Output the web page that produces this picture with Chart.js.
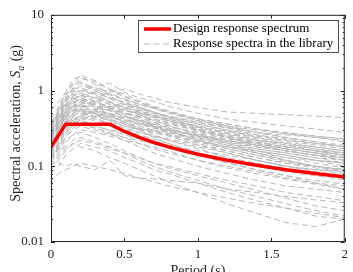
<!DOCTYPE html>
<html>
<head>
<meta charset="utf-8">
<script src="https://cdn.jsdelivr.net/npm/chart.js@4/dist/chart.umd.min.js"></script>
<style>
  html, body { margin: 0; padding: 0; background: #fff; }
  #wrap { width: 353px; height: 272px; }
</style>
</head>
<body>
<div id="wrap"><canvas id="spectra" width="353" height="272"></canvas></div>
<script>
// design spectrum (period in s, Sa in g)
const designT  = [0, 0.1, 0.4, 0.5, 0.6, 0.7, 0.8, 0.9, 1.0, 1.2, 1.4, 1.6, 1.8, 2.0];
const designSa = [0.18, 0.36, 0.36, 0.288, 0.24, 0.206, 0.18, 0.16, 0.144, 0.12, 0.103, 0.09, 0.08, 0.072];

// periods where the library spectra were read
const libT = [0, 0.05, 0.1, 0.15, 0.2, 0.3, 0.4, 0.5, 0.6, 0.7, 0.8, 1.0, 1.2, 1.4, 1.6, 1.8, 2.0];
// response spectra in the library (one row per record)
const libSa = [
  [0.30, 0.55, 0.95, 1.40, 1.55, 1.20, 0.90, 0.75, 0.62, 0.50, 0.44, 0.33, 0.27, 0.22, 0.19, 0.16, 0.14],
  [0.25, 0.42, 0.70, 1.10, 1.45, 1.30, 1.00, 0.82, 0.70, 0.60, 0.52, 0.40, 0.33, 0.28, 0.24, 0.21, 0.18],
  [0.35, 0.50, 0.80, 1.00, 0.95, 1.15, 1.25, 0.95, 0.80, 0.72, 0.62, 0.50, 0.42, 0.38, 0.34, 0.31, 0.28],
  [0.22, 0.35, 0.55, 0.75, 0.85, 0.80, 0.95, 1.05, 0.90, 0.80, 0.70, 0.60, 0.52, 0.50, 0.48, 0.46, 0.44],
  [0.28, 0.40, 0.60, 0.70, 0.78, 0.70, 0.60, 0.52, 0.45, 0.40, 0.36, 0.30, 0.25, 0.21, 0.18, 0.16, 0.14],
  [0.18, 0.30, 0.45, 0.60, 0.65, 0.58, 0.55, 0.48, 0.40, 0.34, 0.30, 0.22, 0.18, 0.15, 0.12, 0.10, 0.09],
  [0.20, 0.28, 0.40, 0.52, 0.60, 0.68, 0.62, 0.55, 0.50, 0.46, 0.40, 0.32, 0.26, 0.22, 0.20, 0.17, 0.15],
  [0.15, 0.22, 0.32, 0.45, 0.55, 0.50, 0.42, 0.36, 0.31, 0.26, 0.22, 0.17, 0.13, 0.11, 0.09, 0.08, 0.07],
  [0.24, 0.33, 0.48, 0.58, 0.52, 0.45, 0.40, 0.38, 0.34, 0.30, 0.27, 0.21, 0.17, 0.14, 0.12, 0.10, 0.085],
  [0.30, 0.45, 0.62, 0.85, 1.00, 0.88, 0.70, 0.58, 0.48, 0.40, 0.35, 0.26, 0.20, 0.16, 0.13, 0.11, 0.095],
  [0.12, 0.18, 0.26, 0.35, 0.42, 0.48, 0.45, 0.40, 0.36, 0.33, 0.30, 0.25, 0.21, 0.18, 0.16, 0.14, 0.13],
  [0.10, 0.14, 0.20, 0.26, 0.30, 0.28, 0.25, 0.22, 0.20, 0.17, 0.15, 0.12, 0.10, 0.085, 0.07, 0.06, 0.055],
  [0.09, 0.11, 0.10, 0.11, 0.10, 0.09, 0.12, 0.075, 0.07, 0.068, 0.065, 0.06, 0.05, 0.045, 0.04, 0.036, 0.033],
  [0.16, 0.25, 0.38, 0.40, 0.36, 0.32, 0.27, 0.22, 0.18, 0.15, 0.13, 0.10, 0.08, 0.065, 0.055, 0.05, 0.045],
  [0.26, 0.40, 0.58, 0.72, 0.66, 0.72, 0.80, 0.70, 0.58, 0.50, 0.46, 0.38, 0.32, 0.26, 0.22, 0.19, 0.17],
  [0.20, 0.30, 0.50, 0.66, 0.78, 0.62, 0.48, 0.38, 0.30, 0.24, 0.20, 0.15, 0.11, 0.09, 0.075, 0.065, 0.058],
  [0.14, 0.20, 0.30, 0.36, 0.44, 0.40, 0.34, 0.30, 0.28, 0.25, 0.22, 0.18, 0.15, 0.12, 0.10, 0.09, 0.08],
  [0.33, 0.48, 0.75, 0.90, 0.85, 0.72, 0.58, 0.50, 0.42, 0.36, 0.32, 0.24, 0.19, 0.15, 0.12, 0.10, 0.09],
  [0.18, 0.26, 0.38, 0.48, 0.50, 0.44, 0.36, 0.30, 0.26, 0.23, 0.20, 0.15, 0.12, 0.10, 0.085, 0.075, 0.066],
  [0.12, 0.16, 0.22, 0.26, 0.28, 0.24, 0.20, 0.16, 0.13, 0.11, 0.095, 0.075, 0.06, 0.048, 0.038, 0.03, 0.026],
  [0.08, 0.10, 0.14, 0.17, 0.20, 0.18, 0.16, 0.13, 0.11, 0.09, 0.08, 0.06, 0.045, 0.035, 0.028, 0.022, 0.020],
  [0.22, 0.32, 0.46, 0.62, 0.70, 0.60, 0.56, 0.50, 0.46, 0.42, 0.38, 0.30, 0.24, 0.20, 0.17, 0.15, 0.13],
  [0.38, 0.55, 0.85, 1.20, 1.30, 1.00, 0.78, 0.64, 0.55, 0.48, 0.42, 0.34, 0.29, 0.25, 0.22, 0.20, 0.18],
  [0.17, 0.24, 0.34, 0.42, 0.46, 0.52, 0.48, 0.42, 0.37, 0.34, 0.31, 0.26, 0.22, 0.19, 0.17, 0.15, 0.14],
  [0.13, 0.18, 0.24, 0.30, 0.34, 0.30, 0.26, 0.24, 0.22, 0.20, 0.18, 0.14, 0.11, 0.09, 0.075, 0.06, 0.05],
  [0.27, 0.38, 0.55, 0.66, 0.62, 0.55, 0.50, 0.45, 0.40, 0.35, 0.31, 0.25, 0.21, 0.17, 0.15, 0.13, 0.11],
  [0.20, 0.27, 0.36, 0.40, 0.46, 0.56, 0.62, 0.66, 0.60, 0.52, 0.45, 0.36, 0.30, 0.26, 0.23, 0.20, 0.18],
  [0.11, 0.15, 0.18, 0.22, 0.24, 0.21, 0.18, 0.15, 0.12, 0.10, 0.085, 0.065, 0.05, 0.04, 0.032, 0.026, 0.022],
  [0.06, 0.08, 0.09, 0.10, 0.11, 0.10, 0.09, 0.08, 0.07, 0.062, 0.055, 0.045, 0.038, 0.032, 0.028, 0.024, 0.021],
  [0.10, 0.13, 0.17, 0.20, 0.18, 0.16, 0.13, 0.11, 0.09, 0.075, 0.062, 0.045, 0.032, 0.024, 0.018, 0.016, 0.020],
  [0.24, 0.36, 0.52, 0.60, 0.72, 0.82, 0.70, 0.60, 0.52, 0.45, 0.40, 0.30, 0.24, 0.19, 0.16, 0.14, 0.12],
  [0.15, 0.22, 0.30, 0.38, 0.40, 0.36, 0.38, 0.34, 0.30, 0.28, 0.26, 0.21, 0.18, 0.16, 0.14, 0.12, 0.11],
  [0.29, 0.42, 0.66, 0.80, 0.72, 0.64, 0.54, 0.46, 0.40, 0.34, 0.29, 0.22, 0.17, 0.14, 0.115, 0.10, 0.09],
  [0.19, 0.26, 0.36, 0.44, 0.40, 0.34, 0.30, 0.28, 0.24, 0.21, 0.19, 0.16, 0.14, 0.12, 0.10, 0.09, 0.085],
  [0.42, 0.60, 0.90, 1.05, 1.10, 0.92, 0.80, 0.70, 0.60, 0.52, 0.46, 0.38, 0.32, 0.28, 0.26, 0.24, 0.22],
  [0.16, 0.24, 0.36, 0.50, 0.58, 0.54, 0.46, 0.38, 0.32, 0.28, 0.25, 0.19, 0.15, 0.12, 0.10, 0.085, 0.075],
  [0.21, 0.30, 0.44, 0.56, 0.62, 0.66, 0.58, 0.50, 0.44, 0.38, 0.34, 0.27, 0.22, 0.18, 0.16, 0.14, 0.12],
  [0.13, 0.19, 0.28, 0.34, 0.38, 0.34, 0.30, 0.26, 0.23, 0.20, 0.18, 0.14, 0.12, 0.10, 0.09, 0.08, 0.07],
  [0.26, 0.36, 0.50, 0.62, 0.86, 0.95, 0.88, 0.76, 0.66, 0.58, 0.52, 0.42, 0.36, 0.31, 0.28, 0.25, 0.23],
  [0.55, 0.70, 0.95, 1.25, 1.60, 1.35, 1.05, 0.85, 0.70, 0.60, 0.52, 0.42, 0.36, 0.31, 0.27, 0.24, 0.21],
  [0.32, 0.46, 0.70, 0.95, 1.15, 1.05, 0.85, 0.66, 0.58, 0.52, 0.44, 0.36, 0.30, 0.24, 0.21, 0.18, 0.16],
  [0.19, 0.28, 0.42, 0.55, 0.62, 0.74, 0.66, 0.60, 0.54, 0.47, 0.42, 0.33, 0.27, 0.23, 0.19, 0.17, 0.15],
  [0.23, 0.34, 0.50, 0.62, 0.58, 0.50, 0.46, 0.44, 0.40, 0.37, 0.33, 0.28, 0.23, 0.20, 0.18, 0.16, 0.15],
  [0.14, 0.20, 0.28, 0.34, 0.40, 0.46, 0.42, 0.36, 0.32, 0.29, 0.26, 0.20, 0.16, 0.13, 0.11, 0.095, 0.085],
  [0.28, 0.42, 0.64, 0.78, 0.92, 0.80, 0.66, 0.56, 0.50, 0.44, 0.40, 0.33, 0.28, 0.24, 0.20, 0.18, 0.16],
  [0.17, 0.25, 0.36, 0.46, 0.54, 0.48, 0.40, 0.34, 0.31, 0.30, 0.28, 0.24, 0.20, 0.17, 0.15, 0.13, 0.12],
  [0.36, 0.52, 0.78, 1.05, 1.25, 1.10, 0.92, 0.78, 0.66, 0.58, 0.50, 0.40, 0.34, 0.30, 0.27, 0.25, 0.23],
  [0.12, 0.17, 0.24, 0.32, 0.36, 0.32, 0.28, 0.24, 0.20, 0.18, 0.16, 0.12, 0.095, 0.08, 0.068, 0.058, 0.05],
  [0.25, 0.36, 0.54, 0.68, 0.76, 0.64, 0.54, 0.46, 0.38, 0.33, 0.28, 0.22, 0.18, 0.15, 0.13, 0.12, 0.10],
  [0.21, 0.30, 0.46, 0.56, 0.50, 0.54, 0.50, 0.42, 0.36, 0.32, 0.30, 0.26, 0.22, 0.19, 0.16, 0.14, 0.13],
  [0.30, 0.44, 0.62, 0.74, 0.84, 0.96, 1.02, 0.90, 0.74, 0.62, 0.54, 0.42, 0.34, 0.28, 0.24, 0.21, 0.19],
  [0.16, 0.23, 0.32, 0.40, 0.46, 0.42, 0.36, 0.32, 0.28, 0.25, 0.23, 0.19, 0.16, 0.13, 0.11, 0.10, 0.09],
  [0.26, 0.38, 0.58, 0.86, 1.05, 0.90, 0.72, 0.60, 0.52, 0.46, 0.40, 0.31, 0.25, 0.21, 0.18, 0.16, 0.14],
  [0.18, 0.27, 0.40, 0.50, 0.56, 0.50, 0.44, 0.40, 0.36, 0.32, 0.29, 0.23, 0.19, 0.16, 0.14, 0.12, 0.11],
  [0.09, 0.12, 0.16, 0.20, 0.22, 0.20, 0.17, 0.15, 0.13, 0.11, 0.10, 0.08, 0.065, 0.055, 0.045, 0.04, 0.035],
  [0.34, 0.50, 0.72, 0.88, 0.80, 0.70, 0.62, 0.55, 0.48, 0.42, 0.37, 0.29, 0.24, 0.20, 0.17, 0.15, 0.13]
];

const xTicks = [0, 0.5, 1, 1.5, 2];
const yTicks = [0.01, 0.1, 1, 10];

const SERIF = '"Liberation Serif", "Times New Roman", serif';
const INK = '#262626';
const RED = '#ff0000';
const GREY = '#b8b8b8';
const DASH = [6, 3.5];

const toPts = (xs, ys) => xs.map((x, i) => ({ x: x, y: ys[i] }));

const datasets = [{
  label: 'Design response spectrum',
  data: toPts(designT, designSa),
  borderColor: RED,
  borderWidth: 3.5,
  pointRadius: 0,
  tension: 0,
  order: 0
}];
libSa.forEach(row => {
  datasets.push({
    label: 'Response spectra in the library',
    data: toPts(libT, row),
    borderColor: GREY,
    borderWidth: 1,
    borderDash: DASH,
    pointRadius: 0,
    tension: 0,
    order: 1
  });
});

// box, inward ticks, axis titles and legend, MATLAB style
const decorations = {
  id: 'decorations',
  afterDatasetsDraw(chart) {
    const { ctx, chartArea: a, scales } = chart;
    const xs = scales.x, ys = scales.y;
    ctx.save();
    ctx.strokeStyle = INK;
    ctx.lineWidth = 1;
    ctx.strokeRect(a.left + 0.5, a.top + 0.5, a.right - a.left - 1, a.bottom - a.top - 1);

    ctx.beginPath();
    xTicks.forEach(v => {
      const px = Math.round(xs.getPixelForValue(v)) + 0.5;
      ctx.moveTo(px, a.bottom); ctx.lineTo(px, a.bottom - 4);
      ctx.moveTo(px, a.top); ctx.lineTo(px, a.top + 4);
    });
    for (let d = 0.01; d < 10; d *= 10) {
      for (let m = 1; m <= 10; m++) {
        const v = d * m;
        const py = Math.round(ys.getPixelForValue(v)) + 0.5;
        const len = (m === 1 || m === 10) ? 4 : 2;
        ctx.moveTo(a.left, py); ctx.lineTo(a.left + len, py);
        ctx.moveTo(a.right, py); ctx.lineTo(a.right - len, py);
      }
    }
    ctx.stroke();

    // x title
    ctx.fillStyle = INK;
    ctx.font = '14px ' + SERIF;
    ctx.textAlign = 'center';
    ctx.textBaseline = 'alphabetic';
    ctx.fillText('Period (s)', (a.left + a.right) / 2, 275);

    // y title with italic S and subscript a
    ctx.save();
    ctx.translate(20, (a.top + a.bottom) / 2 - 5);
    ctx.rotate(-Math.PI / 2);
    const p1 = 'Spectral acceleration, ';
    const p3 = ' (g)';
    ctx.font = '14px ' + SERIF;
    const w1 = ctx.measureText(p1).width, w3 = ctx.measureText(p3).width;
    ctx.font = 'italic 14px ' + SERIF;
    const wS = ctx.measureText('S').width;
    ctx.font = 'italic 10px ' + SERIF;
    const wa = ctx.measureText('a').width;
    let x0 = -(w1 + wS + wa + 1 + w3) / 2;
    ctx.textAlign = 'left';
    ctx.font = '14px ' + SERIF;
    ctx.fillText(p1, x0, 0); x0 += w1;
    ctx.font = 'italic 14px ' + SERIF;
    ctx.fillText('S', x0, 0); x0 += wS;
    ctx.font = 'italic 10px ' + SERIF;
    ctx.fillText('a', x0, 4); x0 += wa + 1;
    ctx.font = '14px ' + SERIF;
    ctx.fillText(p3, x0, 0);
    ctx.restore();

    // legend
    const lx = 138, ly = 20, lw = 200, lh = 32;
    ctx.fillStyle = '#fff';
    ctx.fillRect(lx, ly, lw, lh);
    ctx.strokeStyle = INK;
    ctx.lineWidth = 0.8;
    ctx.strokeRect(lx + 0.5, ly + 0.5, lw, lh);
    ctx.lineWidth = 3.5;
    ctx.strokeStyle = RED;
    ctx.beginPath(); ctx.moveTo(144, 29); ctx.lineTo(171, 29); ctx.stroke();
    ctx.lineWidth = 1;
    ctx.strokeStyle = GREY;
    ctx.setLineDash(DASH);
    ctx.beginPath(); ctx.moveTo(144, 44); ctx.lineTo(171, 44); ctx.stroke();
    ctx.setLineDash([]);
    ctx.fillStyle = '#000';
    ctx.font = '13px ' + SERIF;
    ctx.textBaseline = 'middle';
    ctx.textAlign = 'left';
    ctx.fillText('Design response spectrum', 173, 29);
    ctx.fillText('Response spectra in the library', 173, 44);
    ctx.restore();
  }
};

new Chart(document.getElementById('spectra'), {
  type: 'line',
  data: { datasets: datasets },
  plugins: [decorations],
  options: {
    responsive: false,
    animation: false,
    events: [],
    layout: { padding: { top: 11, right: 6, left: 0, bottom: 0 } },
    plugins: { legend: { display: false }, tooltip: { enabled: false } },
    scales: {
      x: {
        type: 'linear',
        min: 0, max: 2,
        afterBuildTicks: s => { s.ticks = xTicks.map(v => ({ value: v })); },
        afterFit: s => { s.height = 30; },
        grid: { display: false, drawTicks: false },
        border: { display: false },
        ticks: { color: INK, font: { family: SERIF, size: 13 }, padding: 5, maxRotation: 0, autoSkip: false,
                 callback: v => String(v) }
      },
      y: {
        type: 'logarithmic',
        min: 0.01, max: 10,
        afterBuildTicks: s => { s.ticks = yTicks.map(v => ({ value: v })); },
        afterFit: s => { s.width = 51; },
        grid: { display: false, drawTicks: false },
        border: { display: false },
        ticks: { color: INK, font: { family: SERIF, size: 13 }, padding: 7, autoSkip: false,
                 callback: v => String(v) }
      }
    }
  }
});
</script>
</body>
</html>
